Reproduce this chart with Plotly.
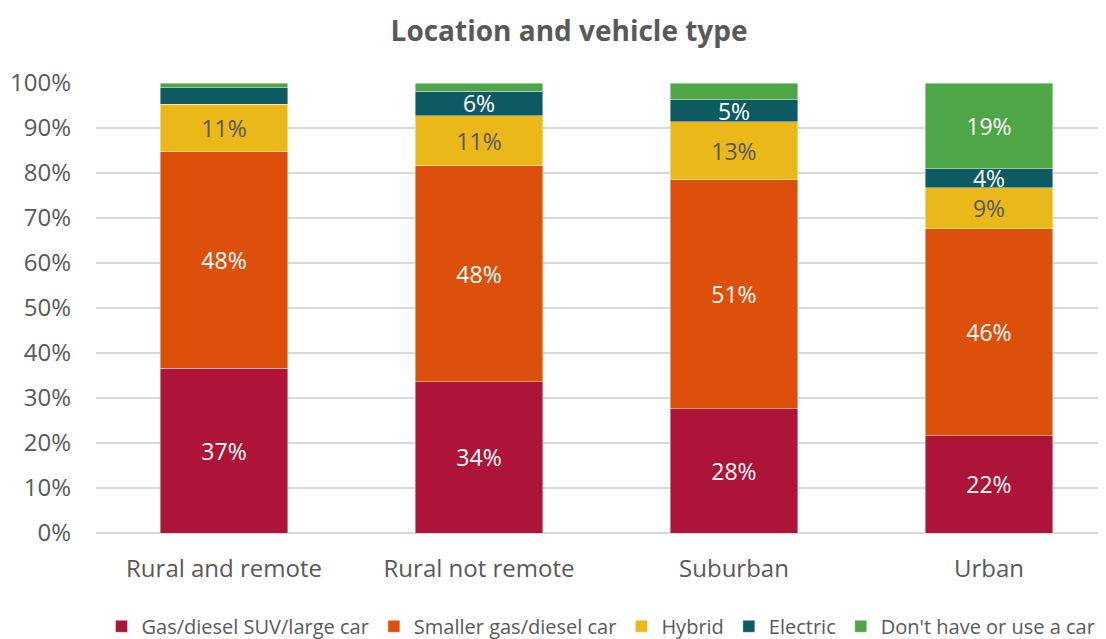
import plotly.graph_objects as go

categories = ["Rural and remote", "Rural not remote", "Suburban", "Urban"]
series_names = ["Gas/diesel SUV/large car", "Smaller gas/diesel car", "Hybrid", "Electric", "Don't have or use a car"]
suv = [36.6, 33.6, 27.6, 21.6]
smaller = [48.1, 48.0, 50.9, 46.0]
hybrid = [10.6, 11.1, 12.9, 9.1]
electric = [3.6, 5.5, 4.9, 4.2]
no_car = [1.1, 1.8, 3.7, 19.1]
show_labels = [
    [True, True, True, True],
    [True, True, True, True],
    [True, True, True, True],
    [False, True, True, True],
    [False, False, False, True],
]
colors = ["#AE1338", "#DD500C", "#EAB819", "#0E5A62", "#4FA646"]
label_colors = ["white", "white", "#595959", "white", "white"]
tick_vals = [0, 10, 20, 30, 40, 50, 60, 70, 80, 90, 100]
tick_text = [f"{v}%" for v in tick_vals]

fig = go.Figure()
for name, vals, col, lc, show in zip(series_names, [suv, smaller, hybrid, electric, no_car], colors, label_colors, show_labels):
    texts = [f"{round(v)}%" if s else "" for v, s in zip(vals, show)]
    fig.add_trace(go.Bar(
        x=categories, y=vals, name=name,
        marker=dict(color=col, line=dict(color="rgba(255,255,255,0.6)", width=0.7)),
        text=texts, textposition="inside", insidetextanchor="middle",
        constraintext="none",
        textfont=dict(color=lc, size=23, family="Open Sans"),
        textangle=0, cliponaxis=False,
    ))

# page body has an 8px default margin, so the figure is sized to fit the window
fig.update_layout(
    barmode="stack", bargap=0.5,
    width=1098, height=631,
    margin=dict(l=88, r=0, t=75, b=106, autoexpand=False),
    paper_bgcolor="white", plot_bgcolor="white",
    font=dict(family="Open Sans", color="#595959"),
    title=dict(text="<b>Location and vehicle type</b>", x=0.511, xanchor="center",
               y=0.963, yanchor="middle", font=dict(size=28, color="#595959", family="Open Sans")),
    legend=dict(orientation="h", x=0.5, xanchor="center", y=-0.164, yanchor="top",
                font=dict(size=20, color="#595959"), itemwidth=30, traceorder="normal"),
    showlegend=True,
)
fig.update_xaxes(range=[-0.502, 3.459], showgrid=False, showline=False, ticks="",
                 automargin=False,
                 tickfont=dict(size=24, color="#595959"), ticklabelstandoff=19)
fig.update_yaxes(range=[0, 100], tickvals=tick_vals, ticktext=tick_text,
                 automargin=False,
                 showgrid=True, gridcolor="#D9D9D9", gridwidth=1.5, zeroline=True,
                 zerolinecolor="#D9D9D9", zerolinewidth=1.5,
                 tickfont=dict(size=24, color="#595959"), ticks="", ticklabelstandoff=24)
fig.write_html("out.html")
